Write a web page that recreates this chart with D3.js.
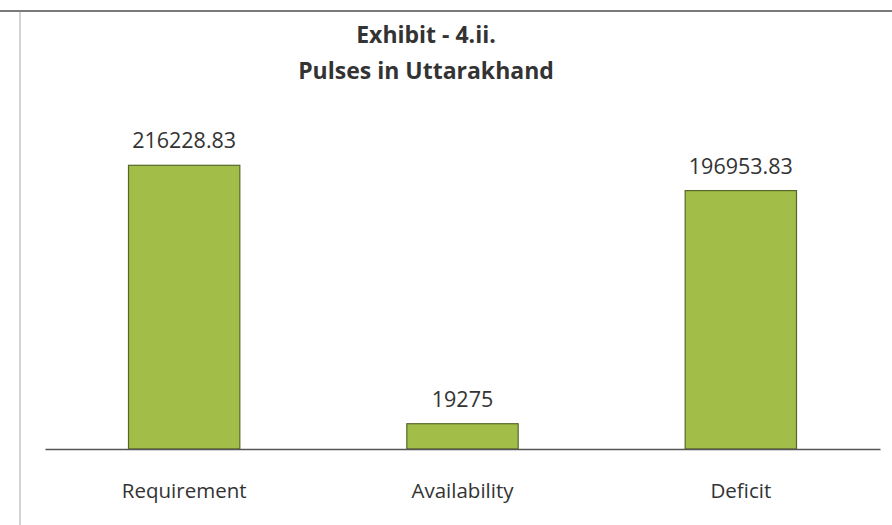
<!DOCTYPE html>
<html>
<head>
<meta charset="utf-8">
<script src="https://cdn.jsdelivr.net/npm/d3@7"></script>
<style>
  html, body { margin: 0; padding: 0; background: #fff; }
  svg { display: block; }
</style>
</head>
<body>
<svg id="chart" width="892" height="525"></svg>
<script>
const categories = ["Requirement", "Availability", "Deficit"];
const values = [216228.83, 19275, 196953.83];
const valueLabels = ["216228.83", "19275", "196953.83"];
const titleLines = ["Exhibit - 4.ii.", "Pulses in Uttarakhand"];

const svg = d3.select("#chart");
const W = 892, H = 525;
const plot = { left: 45, right: 880, top: 121, bottom: 449 };

// frame
svg.append("line").attr("x1", 0).attr("x2", W).attr("y1", 11).attr("y2", 11)
  .attr("stroke", "#7a7a7a").attr("stroke-width", 2);
svg.append("line").attr("x1", 20).attr("x2", 20).attr("y1", 12).attr("y2", H)
  .attr("stroke", "#c4c4c4").attr("stroke-width", 1.5);

const x = d3.scaleBand().domain(categories).range([plot.left, plot.right]).paddingInner(0.6).paddingOuter(0.3);
const y = d3.scaleLinear().domain([0, 250000]).range([plot.bottom, plot.top]);

// title
const title = svg.append("g").attr("font-family", "'Open Sans', sans-serif")
  .attr("font-weight", "bold").attr("fill", "#333").attr("text-anchor", "middle");
title.selectAll("text").data(titleLines).join("text")
  .attr("x", 426).attr("y", (d, i) => 43 + i * 36)
  .attr("font-size", 23).text(d => d);

// bars
svg.append("g").selectAll("rect").data(values).join("rect")
  .attr("x", (d, i) => x(categories[i]))
  .attr("y", d => y(d))
  .attr("width", x.bandwidth())
  .attr("height", d => y(0) - y(d))
  .attr("fill", "#a2bd48")
  .attr("stroke", "#55682a").attr("stroke-width", 1.2);

// axis
const xAxis = d3.axisBottom(x).tickSize(0).tickPadding(34);
const ax = svg.append("g").attr("transform", `translate(0,${plot.bottom})`).call(xAxis);
ax.select(".domain").attr("stroke", "#555").attr("stroke-width", 1.6);
ax.selectAll("text").attr("font-family", "'Open Sans', sans-serif")
  .attr("font-size", 20.5).attr("fill", "#333");

// value labels
svg.append("g").attr("font-family", "'Open Sans', sans-serif").attr("font-size", 21.5)
  .attr("fill", "#333").attr("text-anchor", "middle")
  .selectAll("text").data(values).join("text")
  .attr("x", (d, i) => x(categories[i]) + x.bandwidth() / 2)
  .attr("y", d => y(d) - 17)
  .text((d, i) => valueLabels[i]);
</script>
</body>
</html>
